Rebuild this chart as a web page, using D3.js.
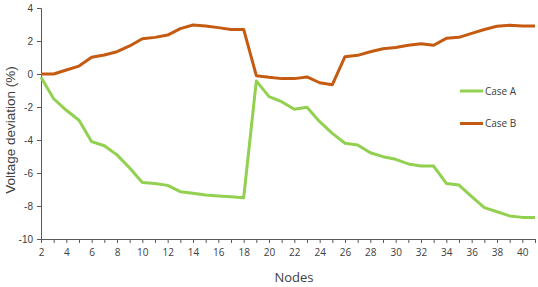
<!DOCTYPE html>
<html>
<head>
<meta charset="utf-8">
<script src="https://cdn.jsdelivr.net/npm/d3@7"></script>
<style>
  body { margin: 0; background: #fff; }
  text { font-family: "Open Sans", "Liberation Sans", sans-serif; fill: #404040; }
</style>
</head>
<body>
<div id="chart"></div>
<script>
// data
var nodes = d3.range(2, 42);
var caseA = [-0.2, -1.5, -2.2, -2.8, -4.1, -4.35, -4.9, -5.7, -6.57, -6.63,
  -6.75, -7.13, -7.23, -7.33, -7.39, -7.44, -7.5, -0.42, -1.37, -1.68,
  -2.14, -2.02, -2.89, -3.6, -4.2, -4.3, -4.77, -5.01, -5.17, -5.45,
  -5.58, -5.58, -6.63, -6.73, -7.43, -8.1, -8.35, -8.6, -8.69, -8.69];
var caseB = [0, 0, 0.24, 0.48, 1.01, 1.15, 1.35, 1.7, 2.14, 2.22,
  2.36, 2.75, 2.97, 2.91, 2.81, 2.7, 2.7, -0.1, -0.2, -0.28,
  -0.28, -0.18, -0.53, -0.65, 1.05, 1.13, 1.35, 1.53, 1.6, 1.74,
  1.84, 1.74, 2.16, 2.22, 2.46, 2.7, 2.89, 2.95, 2.91, 2.91];
var yTicks = [-10, -8, -6, -4, -2, 0, 2, 4];
var seriesNames = ["Case A", "Case B"];
var colors = ["#92d050", "#c55a11"];

var width = 538, height = 287;
var margin = { top: 8, right: 3, bottom: 48, left: 41 };

var x = d3.scaleLinear().domain([2, 41]).range([margin.left, width - margin.right]);
var y = d3.scaleLinear().domain([-10, 4]).range([height - margin.bottom, margin.top]);

var svg = d3.select("#chart").append("svg")
  .attr("width", width)
  .attr("height", height);

// y axis (plain hyphen minus like the original)
var yAxis = d3.axisLeft(y).tickValues(yTicks).tickSize(4).tickPadding(4).tickFormat(d => String(d));
var gy = svg.append("g")
  .attr("transform", "translate(" + margin.left + ",0)")
  .call(yAxis);
gy.selectAll("text").style("font-family", "Liberation Sans, Arial, sans-serif").style("font-size", "10px");

// x axis: tick every node, label every second
var xAxis = d3.axisBottom(x).tickValues(nodes).tickSize(4).tickPadding(6)
  .tickFormat(d => d % 2 == 0 ? d : "");
var gx = svg.append("g")
  .attr("transform", "translate(0," + y(-10) + ")")
  .call(xAxis);
gx.selectAll("text").style("font-size", "10px");

svg.selectAll(".domain, .tick line").attr("stroke", "#595959");

// lines
var line = d3.line()
  .x((d, i) => x(nodes[i]))
  .y(d => y(d));

[caseA, caseB].forEach(function (s, i) {
  svg.append("path")
    .datum(s)
    .attr("fill", "none")
    .attr("stroke", colors[i])
    .attr("stroke-width", 3)
    .attr("stroke-linejoin", "round")
    .attr("d", line);
});

// legend
var legend = svg.append("g").selectAll("g")
  .data(seriesNames)
  .join("g")
  .attr("transform", (d, i) => "translate(460," + (91 + i * 32.5) + ")");
legend.append("line")
  .attr("x1", 0).attr("x2", 23)
  .attr("stroke", (d, i) => colors[i])
  .attr("stroke-width", 3);
legend.append("text")
  .attr("x", 25).attr("dy", "0.35em")
  .style("font-size", "10px")
  .text(d => d);

// axis titles
svg.append("text")
  .attr("x", 294).attr("y", 282)
  .attr("text-anchor", "middle")
  .style("font-size", "13px")
  .text("Nodes");

svg.append("text")
  .attr("transform", "translate(15,130) rotate(-90)")
  .attr("text-anchor", "middle")
  .style("font-family", "Liberation Sans, Arial, sans-serif")
  .style("font-size", "13.5px")
  .text("Voltage deviation (%)");
</script>
</body>
</html>
